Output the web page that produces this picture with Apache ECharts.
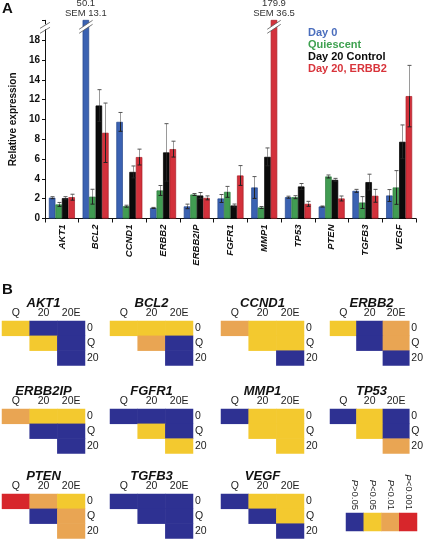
<!DOCTYPE html>
<html><head><meta charset="utf-8">
<script src="https://cdn.jsdelivr.net/npm/echarts@6/dist/echarts.min.js"></script>
<style>html,body{margin:0;padding:0;background:#fff}#c{width:426px;height:539px}</style>
</head><body><div id="c"></div>
<script>
// ---------- DATA ----------
const genes = ['AKT1','BCL2','CCND1','ERBB2','ERBB2IP','FGFR1','MMP1','TP53','PTEN','TGFB3','VEGF'];
const seriesNames = ['Day 0','Quiescent','Day 20 Control','Day 20, ERBB2'];
const day0       = [2.1, 50.1, 9.75, 1.07, 1.22, 2.02, 3.13, 2.15, 1.21, 2.79, 2.32];
const day0Err    = [0.1, 13.1, 0.95, 0.05, 0.23, 0.4, 1.1, 0.1, 0.05, 0.15, 0.6];
const quiescent  = [1.42, 2.2, 1.24, 2.83, 2.42, 2.69, 1.11, 2.15, 4.24, 1.61, 3.13];
const quiescentErr = [0.2, 0.75, 0.1, 0.5, 0.1, 0.55, 0.1, 0.15, 0.15, 0.6, 1.7];
const control    = [2.05, 11.4, 4.7, 6.67, 2.32, 1.31, 6.22, 3.23, 3.9, 3.67, 7.74];
const controlErr = [0.15, 1.6, 0.6, 2.9, 0.3, 0.15, 0.9, 0.3, 0.15, 0.8, 1.7];
const erbb2      = [2.15, 8.65, 6.2, 7.0, 2.08, 4.34, 179.9, 1.48, 2.02, 2.29, 12.35];
const erbb2Err   = [0.3, 3.0, 0.8, 0.8, 0.2, 1.0, 36.5, 0.25, 0.25, 0.65, 3.1];
const yTicks = [0,2,4,6,8,10,12,14,16,18];

// heatmap panel B
const heatGenes = ['AKT1','BCL2','CCND1','ERBB2','ERBB2IP','FGFR1','MMP1','TP53','PTEN','TGFB3','VEGF'];
const heatCols = ['Q','20','20E'];
const heatRows = ['0','Q','20'];
// order: 0-Q, 0-20, 0-20E, Q-20, Q-20E, 20-20E ; 0:P>0.05 1:P<0.05 2:P<0.01 3:P<0.001
const pLevels = [
  [1,0,0, 1,0, 0],
  [1,1,1, 2,0, 0],
  [2,1,1, 1,1, 0],
  [1,0,2, 0,2, 0],
  [2,1,1, 0,0, 0],
  [0,0,0, 1,0, 1],
  [0,1,1, 1,1, 1],
  [0,1,0, 1,0, 2],
  [3,2,1, 0,2, 2],
  [0,0,0, 0,0, 0],
  [0,1,1, 0,1, 0]
];
const pLabels = ['P>0.05','P<0.05','P<0.01','P<0.001'];

// ---------- STYLE / LAYOUT ----------
const FONT = 'Liberation Sans, Arial, sans-serif';
const barFill = ['#3b62b2','#419c52','#0b0b0b','#d3313b'];
const barBorder = ['#27478c','#2c7a3c','#000000','#a81f28'];
const legendColors = ['#4a6dbd','#3ea150','#0a0a0a','#d8333a'];
const pColors = ['#2e3192','#f3c92f','#e9a553','#d7262b'];
const yMax = 20;
const barW = 6.5;
const cellPos = [[0,0],[1,0],[2,0],[1,1],[2,1],[2,2]];
const hmLefts = [2,110,221,330];
const hmTops = [321,409,494];
const hmW = 83, hmH = 44.5;

const values = [day0, quiescent, control, erbb2];
const errs = [day0Err, quiescentErr, controlErr, erbb2Err];

const errData = [], breakData = [];
values.forEach((arr, s) => arr.forEach((v, i) => {
  if (v > yMax) breakData.push([i, s, v, errs[s][i]]);
  else errData.push([i, s, v, errs[s][i]]);
}));

const grids = [{left:31, right:10, top:20.3, height:198.2}];
const xAxes = [{
  type:'category', data:genes, gridIndex:0,
  axisLine:{lineStyle:{color:'#111', width:1}},
  axisTick:{show:true, length:4, lineStyle:{color:'#111'}},
  axisLabel:{rotate:90, interval:0, margin:6, fontSize:9.5, fontStyle:'italic', fontWeight:'bold', color:'#111', fontFamily:FONT}
}];
const yAxes = [{
  type:'value', gridIndex:0, min:0, max:yMax, interval:2,
  name:'Relative expression', nameLocation:'middle', nameGap:20, nameRotate:90,
  nameTextStyle:{fontSize:10, fontWeight:'bold', color:'#111', fontFamily:FONT},
  axisLine:{show:true, lineStyle:{color:'#111', width:1}},
  axisTick:{show:true, length:3, lineStyle:{color:'#111'}},
  splitLine:{show:false},
  axisLabel:{fontSize:10, fontWeight:'bold', color:'#111', margin:5, fontFamily:FONT,
    formatter: v => (yTicks.indexOf(v) >= 0 ? String(v) : '')}
}];

const series = [];
values.forEach((arr, s) => {
  series.push({
    type:'bar', name:seriesNames[s], data:arr, xAxisIndex:0, yAxisIndex:0,
    barWidth:barW, barGap:'0%', clip:true,
    itemStyle:{color:barFill[s], borderColor:barBorder[s], borderWidth:0.7},
    emphasis:{disabled:true}
  });
});

series.push({
  type:'custom', name:'err', xAxisIndex:0, yAxisIndex:0, data:errData, clip:false,
  encode:{x:0, y:2}, silent:true, z:5,
  renderItem(params, api){
    const i = api.value(0), s = api.value(1), v = api.value(2), e = api.value(3);
    const cx = Math.round(api.coord([i, 0])[0] + (s - 1.5) * barW) + 0.5;
    const yT = api.coord([i, v + e])[1], yV = api.coord([i, v])[1], yB = api.coord([i, Math.max(v - e, 0)])[1];
    return {type:'group', children:[
      {type:'line', shape:{x1:cx, y1:yT, x2:cx, y2:yV}, style:{stroke:'#9a9a9a', lineWidth:1}},
      {type:'line', shape:{x1:cx, y1:yV, x2:cx, y2:yB}, style:{stroke:'#222', lineWidth:1}},
      {type:'line', shape:{x1:cx-2, y1:yT, x2:cx+2, y2:yT}, style:{stroke:'#555', lineWidth:1}},
      {type:'line', shape:{x1:cx-2, y1:yB, x2:cx+2, y2:yB}, style:{stroke:'#222', lineWidth:1}}
    ]};
  }
});

series.push({
  type:'custom', name:'break', xAxisIndex:0, yAxisIndex:0, data:breakData, clip:false,
  encode:{x:0, y:1}, silent:true, z:6,
  renderItem(params, api){
    const i = api.value(0), s = api.value(1), v = api.value(2), e = api.value(3);
    const cx = api.coord([i, 0])[0] + (s - 1.5) * barW;
    const top = params.coordSys.y;
    const h = barW/2 + 3.5, yb = top + 13;
    return {type:'group', children:[
      {type:'polygon', shape:{points:[[cx-h, yb],[cx+h, yb-9],[cx+h, yb-13],[cx-h, yb-4]]}, style:{fill:'#fff', stroke:null}},
      {type:'line', shape:{x1:cx-h, y1:yb, x2:cx+h, y2:yb-9}, style:{stroke:'#555', lineWidth:0.8}},
      {type:'line', shape:{x1:cx-h, y1:yb-4, x2:cx+h, y2:yb-13}, style:{stroke:'#555', lineWidth:0.8}},
      {type:'text', style:{text: v.toFixed(1) + '\nSEM ' + e.toFixed(1), x:cx, y:top-1.5, align:'center', verticalAlign:'bottom',
        fontSize:9.5, lineHeight:10, fill:'#333', fontFamily:FONT}}
    ]};
  }
});

series.push({
  type:'custom', name:'axisBreak', xAxisIndex:0, yAxisIndex:0, data:[[0, yMax]], clip:false,
  silent:true, z:6,
  renderItem(params, api){
    const x = params.coordSys.x, top = params.coordSys.y;
    return {type:'group', children:[
      {type:'rect', shape:{x:x-1.5, y:top+4, width:3, height:5}, style:{fill:'#fff'}},
      {type:'line', shape:{x1:x-5, y1:top+8, x2:x+5, y2:top+2}, style:{stroke:'#555', lineWidth:0.8}},
      {type:'line', shape:{x1:x-5, y1:top+13, x2:x+5, y2:top+7}, style:{stroke:'#555', lineWidth:0.8}}
    ]};
  }
});

const graphics = [
  {type:'text', style:{text:'A', x:2, y:1, fontSize:15, fontWeight:'bold', fill:'#111', fontFamily:FONT}},
  {type:'text', style:{text:'B', x:2, y:282, fontSize:15, fontWeight:'bold', fill:'#111', fontFamily:FONT}}
];

const heatIdx = [];
heatGenes.forEach((g, k) => {
  const col = k % 4, row = Math.floor(k / 4);
  const left = hmLefts[col], top = hmTops[row];
  const gi = grids.length;
  grids.push({left:left, top:top, width:hmW, height:hmH});
  xAxes.push({type:'category', data:heatCols, gridIndex:gi, position:'top',
    axisLine:{show:false}, axisTick:{show:false}, splitLine:{show:false},
    axisLabel:{fontSize:10.5, color:'#222', margin:2, fontFamily:FONT}});
  yAxes.push({type:'category', data:heatRows, gridIndex:gi, position:'right', inverse:true,
    axisLine:{show:false}, axisTick:{show:false}, splitLine:{show:false},
    axisLabel:{fontSize:10.5, color:'#222', margin:2, align:'left', fontFamily:FONT}});
  heatIdx.push(series.length);
  series.push({type:'heatmap', xAxisIndex:gi, yAxisIndex:gi,
    data: pLevels[k].map((p, j) => [cellPos[j][0], cellPos[j][1], p]),
    itemStyle:{borderWidth:0}, emphasis:{disabled:true}, silent:true});
  graphics.push({type:'text', style:{text:g, x:left + hmW/2, y:top - 18, align:'center', verticalAlign:'middle',
    fontSize:13, fontWeight:'bold', fontStyle:'italic', fill:'#111', fontFamily:FONT}});
});

// significance legend
{
  const gi = grids.length;
  grids.push({left:346, top:513, width:71, height:18});
  xAxes.push({type:'category', data:pLabels, gridIndex:gi, position:'top',
    axisLine:{show:false}, axisTick:{show:false},
    axisLabel:{rotate:90, interval:0, fontSize:9.5, color:'#222', margin:3, fontFamily:FONT,
      formatter: t => '{i|P}' + t.slice(1),
      rich:{i:{fontStyle:'italic', fontSize:9.5, color:'#222', fontFamily:FONT}}}});
  yAxes.push({type:'category', data:[''], gridIndex:gi, show:false});
  heatIdx.push(series.length);
  series.push({type:'heatmap', xAxisIndex:gi, yAxisIndex:gi,
    data: pLabels.map((t, j) => [j, 0, j]), itemStyle:{borderWidth:0}, emphasis:{disabled:true}, silent:true});
}

const option = {
  animation:false,
  textStyle:{fontFamily:FONT},
  legend:{orient:'vertical', left:302, top:27, itemWidth:0, itemHeight:0, itemGap:0, padding:0,
    selectedMode:false,
    textStyle:{fontSize:11, fontWeight:'bold', lineHeight:12, fontFamily:FONT},
    data: seriesNames.map((n, s) => ({name:n, textStyle:{color:legendColors[s]}}))},
  grid:grids, xAxis:xAxes, yAxis:yAxes,
  visualMap:{type:'piecewise', show:false, dimension:2, seriesIndex:heatIdx,
    pieces: pColors.map((c, j) => ({value:j, color:c}))},
  graphic:graphics,
  series:series
};
const chart = echarts.init(document.getElementById('c'), null, {renderer:'canvas'});
chart.setOption(option);
</script></body></html>
